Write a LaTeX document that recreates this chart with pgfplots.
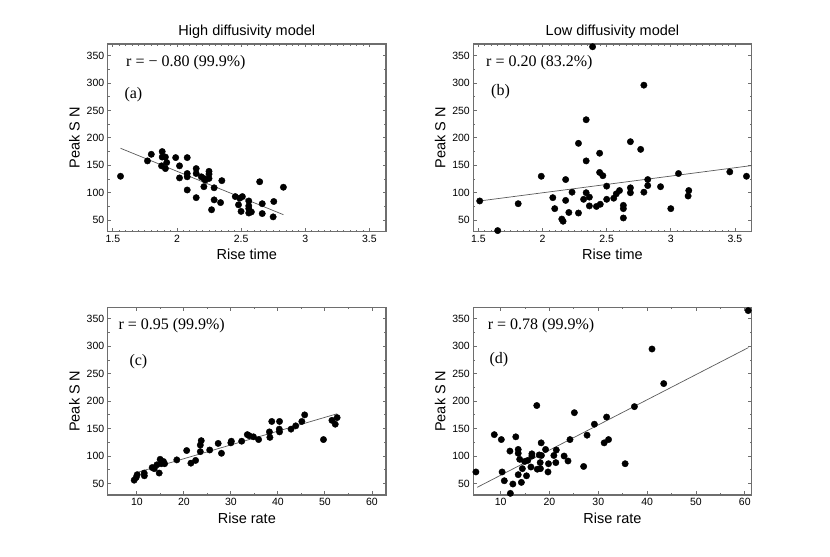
\documentclass[border=0pt]{standalone}
\usepackage{fontspec}
\setmainfont{Liberation Sans}
\newfontfamily\annfont{Liberation Serif}
\usepackage{pgfplots}
\usepackage{pgfplotstable}
\pgfplotsset{compat=1.18}
\definecolor{axgray}{RGB}{110,110,110}
\definecolor{fitgray}{RGB}{90,90,90}

\pgfplotstableread{
x y
1.56 130
1.77 158
1.80 170
1.885 175
1.885 165
1.91 165
1.92 155
1.88 149
1.91 144
1.99 164
2.02 149
2.02 127
2.08 164
2.08 135
2.08 129
2.08 105
2.15 144
2.15 135
2.15 91
2.19 129
2.21 126
2.21 111
2.25 139
2.25 134
2.25 126
2.22 123
2.27 69
2.29 109
2.29 87
2.35 122
2.34 82
2.455 93
2.48 78
2.49 90
2.51 93
2.50 66
2.56 85
2.56 76
2.56 71
2.56 63
2.58 65
2.645 120
2.665 80
2.665 62
2.755 84
2.75 56
2.83 110
}\dataA

\pgfplotstableread{
x y
1.51 85
1.65 31
1.81 80
1.99 130
2.08 91
2.095 71
2.18 86
2.18 124
2.15 52
2.16 48
2.205 64
2.23 101
2.28 190
2.28 63
2.32 88
2.34 233
2.34 158
2.34 100
2.365 92
2.365 76
2.39 366
2.42 75
2.445 172
2.445 137
2.45 79
2.47 131
2.50 112
2.50 88
2.555 90
2.575 98
2.60 104
2.63 77
2.63 71
2.63 54
2.685 193
2.685 109
2.685 100
2.765 179
2.79 296
2.79 101
2.82 124
2.82 113
2.92 111
3.00 71
3.06 135
3.14 104
3.135 94
3.46 138
3.59 130
}\dataB

\pgfplotstableread{
x y
9.43 56
9.86 61
10.07 66
11.56 69
11.6 64
13.26 79
13.7 77
14.26 84
14.75 69
14.96 94
15.18 86
15.67 90
15.9 86
18.5 93
20.6 110
21.5 87
22.5 92
23.5 120
23.7 128
23.5 108
25.5 111
27.3 123
28.0 105
30.1 127
30.0 124
32.3 127
33.5 139
33.9 137
34.8 135
35.9 130
38.2 144
38.3 134
38.7 163
40.3 149
40.35 144
40.35 163
42.8 149
43.8 155
45.1 163
45.7 175
49.7 130
51.5 165
52.2 158
52.6 170
}\dataC

\pgfplotstableread{
x y
4.93 71
8.7 139
10.14 130
10.3 71
10.75 55
11.9 109
11.99 32
12.5 49
13.1 135
13.6 112
13.6 105
13.6 66
13.9 94
14.25 52
14.45 77
14.9 90
15.3 64
15.55 92
16.2 80
16.4 104
16.4 100
17.4 192
17.5 76
17.9 102
18.1 88
18.15 77
18.3 124
18.35 101
19.2 112
19.7 71
19.8 86
20.9 101
21.3 88
21.4 111
23.0 100
23.8 91
24.2 130
25.1 179
27.0 81
27.7 138
29.2 158
31.2 124
31.7 171
32.1 130
35.5 86
37.4 190
41.0 295
43.4 232
60.7 365
}\dataD

\pgfplotsset{
  panel/.style={
    width=278.3bp,height=187.7bp,scale only axis,anchor=south west,
    ymin=29,ymax=371,ytick={50,100,...,350},minor y tick num=1,
    axis line style={draw=axgray,line width=1.3bp},
    every tick/.style={draw=axgray,line width=0.8bp},
    major tick length=3.5bp,minor tick length=2bp,
    tick align=inside, xtick pos=both, ytick pos=both,
    xticklabel pos=left, yticklabel pos=left,
    ticklabel style={font=\fontsize{10.5bp}{12bp}\selectfont,black},
    /pgf/number format/assume math mode=true,
    label style={font=\fontsize{14.5bp}{17bp}\selectfont},
    ylabel={Peak S N},
    title style={font=\fontsize{14.5bp}{17bp}\selectfont,yshift=-4.5bp},
  },
  timeaxis/.style={xmin=1.46,xmax=3.63,xtick={1.5,2,2.5,3,3.5},minor x tick num=9,xlabel={Rise time}},
  rateaxis/.style={xtick={10,20,...,60},minor x tick num=1,xlabel={Rise rate}},
  dots/.style={only marks,mark=*,mark size=3.2bp,black},
  fitline/.style={no marks,draw=fitgray,line width=0.7bp},
}
\tikzset{ann/.style={anchor=west,inner sep=0pt,font=\annfont\fontsize{16bp}{18bp}\selectfont}}

\begin{document}
\begin{tikzpicture}
\path[use as bounding box] (0,0) rectangle (830bp,557bp);

\begin{axis}[panel,timeaxis,at={(107.7bp,325.3bp)},title={High diffusivity model}]
\addplot[dots] table[x=x,y=y]{\dataA};
\addplot[fitline] coordinates {(1.56,181) (2.83,60)};
\node[ann] at ([xshift=18.3bp,yshift=-18.7bp]rel axis cs:0,1) {r = − 0.80 (99.9\%)};
\node[ann] at ([xshift=16.6bp,yshift=-51bp]rel axis cs:0,1) {(a)};
\end{axis}

\begin{axis}[panel,timeaxis,at={(473.3bp,325.3bp)},title={Low diffusivity model}]
\addplot[dots] table[x=x,y=y]{\dataB};
\addplot[fitline] coordinates {(1.51,85) (3.63,149.5)};
\node[ann] at ([xshift=12.7bp,yshift=-18.7bp]rel axis cs:0,1) {r = 0.20 (83.2\%)};
\node[ann] at ([xshift=17.7bp,yshift=-47.7bp]rel axis cs:0,1) {(b)};
\end{axis}

\begin{axis}[panel,rateaxis,xmin=3.8,xmax=63.0,at={(107.7bp,62bp)}]
\addplot[dots] table[x=x,y=y]{\dataC};
\addplot[fitline] coordinates {(10.0,70) (52.6,177)};
\node[ann] at ([xshift=10.6bp,yshift=-18bp]rel axis cs:0,1) {r = 0.95 (99.9\%)};
\node[ann] at ([xshift=21.6bp,yshift=-54.3bp]rel axis cs:0,1) {(c)};
\end{axis}

\begin{axis}[panel,rateaxis,xmin=4.4,xmax=61.4,at={(473.3bp,62bp)}]
\addplot[dots] table[x=x,y=y]{\dataD};
\addplot[fitline] coordinates {(5.2,43) (60.75,297.6)};
\node[ann] at ([xshift=14.4bp,yshift=-18bp]rel axis cs:0,1) {r = 0.78 (99.9\%)};
\node[ann] at ([xshift=16bp,yshift=-52bp]rel axis cs:0,1) {(d)};
\end{axis}
\end{tikzpicture}
\end{document}
